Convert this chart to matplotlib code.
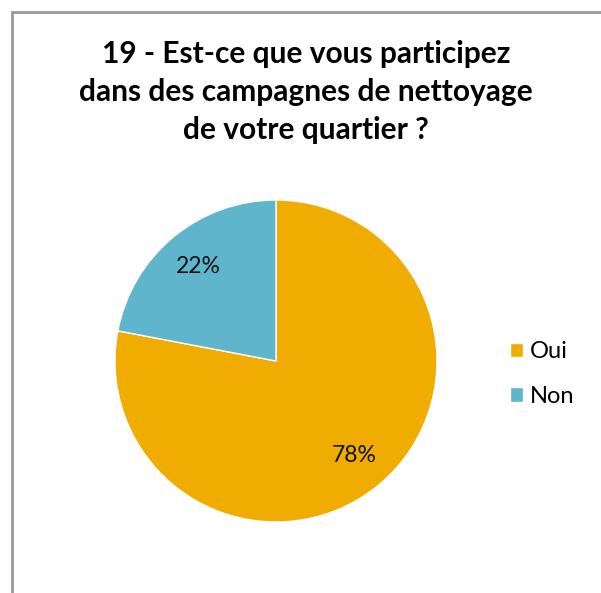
import matplotlib.pyplot as plt
from matplotlib.patches import Rectangle

labels = ['Oui', 'Non']
values = [78, 22]
colors = ['#F0AC00', '#5FB5CB']

title = '19 - Est-ce que vous participez\ndans des campagnes de nettoyage\nde votre quartier ?'

plt.rcParams['font.family'] = ['Lato', 'DejaVu Sans']

W, H = 601, 593
fig = plt.figure(figsize=(W / 100, H / 100), dpi=100)

# chart area frame (right and bottom edges run off the image)
fig.patches.append(Rectangle((12 / W, -0.1), 1.2, (H - 12) / H + 0.1,
                             transform=fig.transFigure, fill=False,
                             edgecolor='#999999', linewidth=2))

fig.text(306 / W, 1 - 92 / H, title, ha='center', va='center',
         fontsize=21.5, fontweight='bold', linespacing=1.42)

cx, cy, r = 276, 361, 161
ax = fig.add_axes([(cx - r) / W, 1 - (cy + r) / H, 2 * r / W, 2 * r / H])
wedges, texts, autotexts = ax.pie(values, colors=colors, startangle=90,
                                  counterclock=False, autopct='%d%%',
                                  pctdistance=0.76,
                                  wedgeprops=dict(edgecolor='white', linewidth=1),
                                  textprops=dict(fontsize=16.5, color='#111111'))
ax.set_xlim(-1, 1)
ax.set_ylim(-1, 1)
ax.set_aspect('equal')

leg = fig.legend(wedges, labels, loc='center left',
                 bbox_to_anchor=(489 / W, 1 - 374 / H), frameon=False,
                 fontsize=17, handlelength=0.55, handleheight=0.55,
                 handletextpad=0.3, labelspacing=1.0)

fig.savefig('out.png', dpi=100)
